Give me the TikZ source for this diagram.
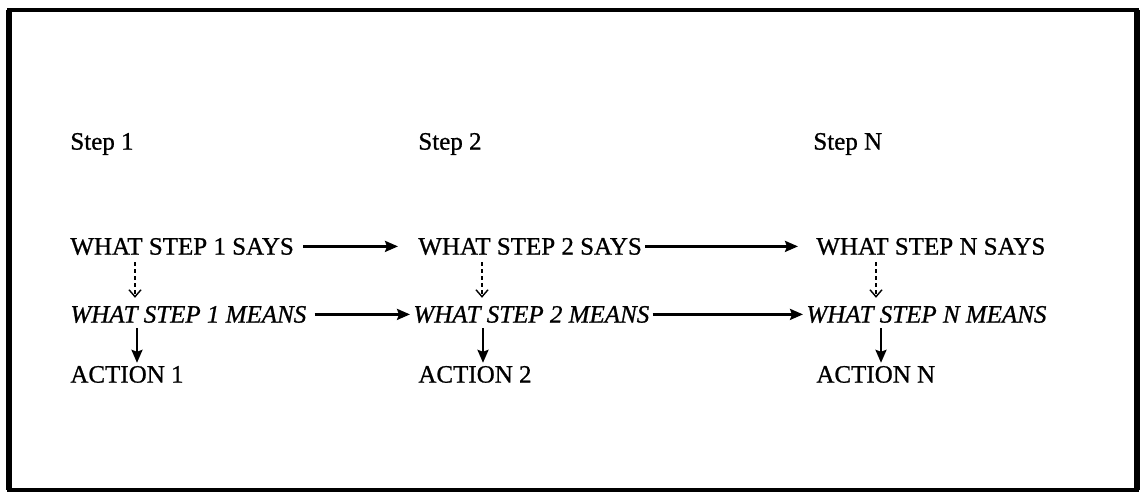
\documentclass[tikz,border=0pt]{standalone}
\usepackage{fontspec}
\setmainfont{Liberation Serif}
\newfontfamily\scanfont[FakeBold=0.9]{Liberation Serif}
\usetikzlibrary{arrows.meta}
\begin{document}
\begin{tikzpicture}[x=0.5pt,y=-0.5pt,
  txt/.style={inner sep=0pt,anchor=south west,text height=8.2pt,text depth=0pt,font=\scanfont\fontsize{12.5}{14}\selectfont},
  itxt/.style={txt,font=\scanfont\fontsize{12.5}{14}\selectfont\itshape},
  harrow/.style={line width=1.2pt,-{Stealth[length=6.5pt,width=5.5pt,inset=1pt]}},
  varrow/.style={line width=1.2pt,-{Stealth[length=6.5pt,width=5.5pt,inset=1pt]}},
  dasharrow/.style={line width=0.7pt,dash pattern=on 2pt off 1.5pt,-{Straight Barb[length=3.5pt,width=6pt]}},
  frame/.style={line width=1.8pt},
  side/.style={line width=2.8pt}]
\useasboundingbox (0,0) rectangle (1142,494);
\draw[frame] (9,10) rectangle (1137,490);
\draw[side] (9,10) -- (9,490);
\draw[side] (1137,10) -- (1137,490);
% step labels
\node[txt] (st1) at (70,150) {Step 1};
\node[txt] (st2) at (418,150) {Step 2};
\node[txt] (stN) at (813,150) {Step N};
% says
\node[txt] (s1) at (70,255) {WHAT STEP 1 SAYS};
\node[txt] (s2) at (418,255) {WHAT STEP 2 SAYS};
\node[txt] (sN) at (816,255) {WHAT STEP N SAYS};
% means
\node[itxt] (m1) at (70,323) {WHAT STEP 1 MEANS};
\node[itxt] (m2) at (413,323) {WHAT STEP 2 MEANS};
\node[itxt] (mN) at (806,323) {WHAT STEP N MEANS};
% actions
\node[txt] (a1) at (70,383) {ACTION 1};
\node[txt] (a2) at (418,383) {ACTION 2};
\node[txt] (aN) at (816,383) {ACTION N};
% horizontal arrows
\draw[harrow,shorten <=4.5pt,shorten >=10pt] (s1.east) -- (s2.west);
\draw[harrow,shorten <=1.5pt,shorten >=9pt] (s2.east) -- (sN.west);
\draw[harrow,shorten <=4pt,shorten >=1.5pt] (m1.east) -- (m2.west);
\draw[harrow,shorten <=1.5pt,shorten >=1.5pt] (m2.east) -- (mN.west);
% dashed vertical arrows
\coordinate (d1) at ([xshift=32.5pt]s1.south west);
\coordinate (d2) at ([xshift=32pt]s2.south west);
\coordinate (dN) at ([xshift=30pt]sN.south west);
\draw[dasharrow,shorten <=3.5pt,shorten >=4pt] (d1) -- (d1 |- m1.north);
\draw[dasharrow,shorten <=3.5pt,shorten >=4pt] (d2) -- (d2 |- m2.north);
\draw[dasharrow,shorten <=3.5pt,shorten >=4pt] (dN) -- (dN |- mN.north);
% solid vertical arrows
\coordinate (e1) at ([xshift=33.5pt]m1.south west);
\coordinate (e2) at ([xshift=35pt]m2.south west);
\coordinate (eN) at ([xshift=37.5pt]mN.south west);
\draw[varrow,shorten <=2.5pt,shorten >=1.5pt] (e1) -- (e1 |- a1.north);
\draw[varrow,shorten <=2.5pt,shorten >=1.5pt] (e2) -- (e2 |- a2.north);
\draw[varrow,shorten <=2.5pt,shorten >=1.5pt] (eN) -- (eN |- aN.north);
\end{tikzpicture}
\end{document}
